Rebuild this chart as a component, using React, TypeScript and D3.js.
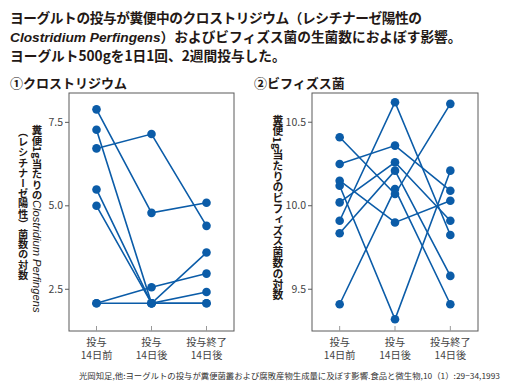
import React from "react";
import * as d3 from "d3";

const width = 510;
const height = 389;

// categories on the x axis (two text lines each)
const categories = ["pre", "mid", "post"];
const categoryLines = [
  ["投与", "14日前"],
  ["投与", "14日後"],
  ["投与終了", "14日後"],
];

// one row per subject: [投与14日前, 投与14日後, 投与終了14日後]
const clostridium = [
  [7.89, 4.79, 5.09],
  [6.72, 7.15, 4.4],
  [7.28, 2.08, 3.6],
  [5.49, 2.08, 2.42],
  [5.0, 2.08, 2.08],
  [2.08, 2.56, 2.97],
  [2.08, 2.08, 2.08],
];

const bifidus = [
  [10.41, 10.07, 10.61],
  [10.25, 10.36, 10.09],
  [10.15, 9.9, 10.03],
  [10.12, 9.32, 10.21],
  [10.02, 10.26, 9.91],
  [9.91, 10.62, 9.825],
  [9.835, 10.21, 9.58],
  [9.41, 10.1, 9.41],
];

const clostridiumTicks = [2.5, 5.0, 7.5];
const bifidusTicks = [9.5, 10.0, 10.5];

const titleLines = [
  "ヨーグルトの投与が糞便中のクロストリジウム（レシチナーゼ陽性の",
  "）およびビフィズス菌の生菌数におよぼす影響。",
  "ヨーグルト500gを1日1回、2週間投与した。",
];
const footer =
  "光岡知足,他:ヨーグルトの投与が糞便菌叢および腐敗産物生成量に及ぼす影響.食品と微生物,10（1）:29−34,1993";

const blue = "#0b5ca8";
const jp = "'Noto Sans CJK JP', 'Noto Sans', sans-serif";
const latin = "'Liberation Sans', Arial, sans-serif";

function Panel(props: {
  data: number[][];
  ticks: number[];
  domain: [number, number];
  left: number;
  right: number;
  children?: React.ReactNode;
}) {
  const { data, ticks, domain, left, right } = props;
  const top = 93;
  const bottom = 331;

  const x = d3.scalePoint<string>().domain(categories).range([left, right]).padding(0.5);
  const y = d3.scaleLinear().domain(domain).range([bottom, top]);
  const line = d3
    .line<number>()
    .x((_, i) => x(categories[i]) as number)
    .y((d) => y(d));

  return (
    <g>
      <rect x={left} y={top} width={right - left} height={bottom - top} fill="none" stroke="#5a5a5a" strokeWidth={1} />
      {ticks.map((t) => (
        <g key={t}>
          <line x1={left - 4} x2={left} y1={y(t)} y2={y(t)} stroke="#5a5a5a" />
          <text x={left - 6} y={y(t)} dy="0.35em" textAnchor="end" fontSize={10.5} fill="#444" fontFamily={jp}>
            {t.toFixed(1)}
          </text>
        </g>
      ))}
      {categories.map((c, i) => (
        <g key={c}>
          <line x1={x(c)} x2={x(c)} y1={bottom - 5} y2={bottom} stroke="#999" />
          <text x={x(c)} y={345.5} textAnchor="middle" fontSize={10.2} fill="#444" fontFamily={jp}>
            {categoryLines[i].map((s, j) => (
              <tspan key={j} x={x(c)} dy={j === 0 ? 0 : 13}>
                {s}
              </tspan>
            ))}
          </text>
        </g>
      ))}
      {data.map((row, i) => (
        <path key={i} d={line(row) || ""} fill="none" stroke={blue} strokeWidth={1.6} />
      ))}
      {data.map((row, i) =>
        row.map((v, j) => <circle key={i + "-" + j} cx={x(categories[j])} cy={y(v)} r={4.3} fill={blue} />)
      )}
      {props.children}
    </g>
  );
}

export default function App() {
  const vertical = { writingMode: "vertical-rl" as const };
  return (
    <svg width={width} height={height} style={{ display: "block", position: "absolute", left: 0, top: 0 }}>
      <rect width={width} height={height} fill="#fff" />
      <g fontFamily={jp} fontWeight={700} fontSize={13.7} fill="#231815">
        <text x={10} y={23} textLength={412} lengthAdjust="spacing">
          {titleLines[0]}
        </text>
        <text x={10} y={42}>
          <tspan fontFamily={latin} fontStyle="italic">
            Clostridium Perfingens
          </tspan>
          <tspan>{titleLines[1]}</tspan>
        </text>
        <text x={10} y={61}>{titleLines[2]}</text>
        <text x={10} y={88} fontSize={13}>①クロストリジウム</text>
        <text x={254} y={88} fontSize={13}>②ビフィズス菌</text>
      </g>

      <Panel data={clostridium} ticks={clostridiumTicks} domain={[1.25, 8.38]} left={69} right={234}>
        <text x={37} y={125} style={vertical} fontSize={10.5} fontFamily={jp} fontWeight={700} fill="#231815">
          糞便1g当たりの
          <tspan fontFamily={latin} fontStyle="italic" fontWeight={400} fontSize={11.2}>
            Clostridium Perfingens
          </tspan>
        </text>
        <text x={23} y={127} style={vertical} fontSize={10.2} fontFamily={jp} fontWeight={700} fill="#231815">
          （レシチナーゼ陽性）菌数の対数
        </text>
      </Panel>

      <Panel data={bifidus} ticks={bifidusTicks} domain={[9.25, 10.675]} left={312} right={478}>
        <text x={278} y={115} style={vertical} fontSize={10.8} fontFamily={jp} fontWeight={700} fill="#231815">
          糞便1g当たりのビフィズス菌数の対数
        </text>
      </Panel>

      <text x={79} y={379} fontSize={8.2} fontFamily={jp} fill="#333" textLength={421} lengthAdjust="spacingAndGlyphs">
        {footer}
      </text>
    </svg>
  );
}
